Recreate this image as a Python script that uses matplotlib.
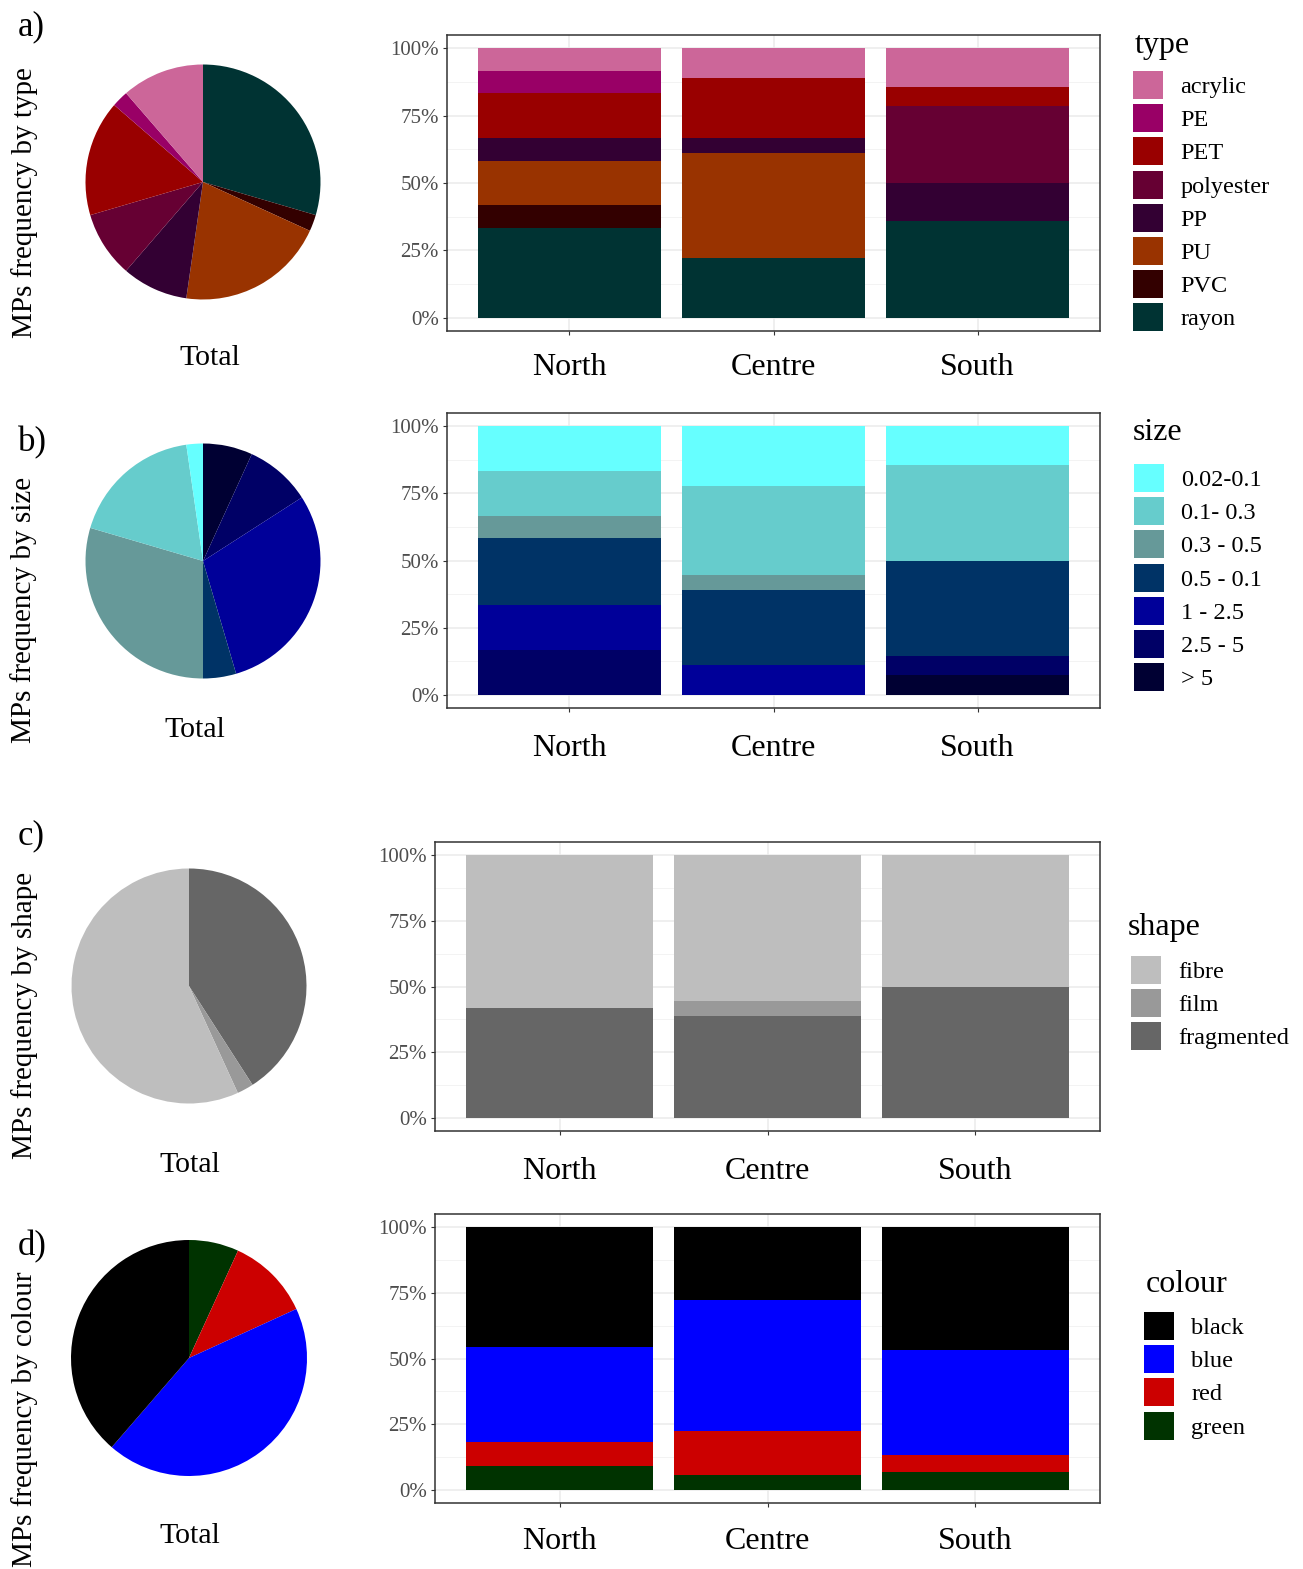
import numpy as np
import matplotlib
matplotlib.use('Agg')
import matplotlib.pyplot as plt
from matplotlib.patches import Patch

plt.rcParams['font.family'] = 'Liberation Serif'

regions = ['North', 'Centre', 'South']

# a) polymer type (counts per region, legend order)
type_labels = ['acrylic', 'PE', 'PET', 'polyester', 'PP', 'PU', 'PVC', 'rayon']
type_colors = ['#CC6699', '#990066', '#990000', '#660033', '#330033', '#993300', '#330000', '#003333']
type_north = [1, 1, 2, 0, 1, 2, 1, 4]
type_centre = [2, 0, 4, 0, 1, 7, 0, 4]
type_south = [2, 0, 1, 4, 2, 0, 0, 5]
type_total = [5, 1, 7, 4, 4, 9, 1, 13]

# b) size class
size_labels = ['0.02-0.1', '0.1- 0.3', '0.3 - 0.5', '0.5 - 0.1', '1 - 2.5', '2.5 - 5', '> 5']
size_colors = ['#66FFFF', '#66CCCC', '#669999', '#003366', '#000099', '#000066', '#000033']
size_north = [2, 2, 1, 3, 2, 2, 0]
size_centre = [4, 6, 1, 5, 2, 0, 0]
size_south = [2, 5, 0, 5, 0, 1, 1]
size_total = [1, 8, 13, 2, 13, 4, 3]

# c) shape
shape_labels = ['fibre', 'film', 'fragmented']
shape_colors = ['#BEBEBE', '#999999', '#666666']
shape_north = [7, 0, 5]
shape_centre = [10, 1, 7]
shape_south = [7, 0, 7]
shape_total = [25, 1, 18]

# d) colour
colour_labels = ['black', 'blue', 'red', 'green']
colour_colors = ['#000000', '#0000FF', '#CC0000', '#003300']
colour_north = [5, 4, 1, 1]
colour_centre = [5, 9, 3, 1]
colour_south = [7, 6, 1, 1]
colour_total = [17, 19, 5, 3]

W, H = 1303, 1569
fig = plt.figure(figsize=(W/100., H/100.), dpi=100, facecolor='white')

def rect(x0, y0, x1, y1):
    return [x0/float(W), 1 - y1/float(H), (x1-x0)/float(W), (y1-y0)/float(H)]

def px(x, y):
    return (x/float(W), 1 - y/float(H))

panels = [
    dict(letter='a)', name='type', labels=type_labels, colors=type_colors,
         counts=[type_north, type_centre, type_south], total=type_total,
         box=(447, 35, 1100, 331), xpad=12.6, pie=(203, 182, 117.5), letter_xy=(31, 27),
         ylab_xy=(25, 203), total_xy=(210, 358), title_xy=(1135, 45), leg_xy=(1133, 71)),
    dict(letter='b)', name='size', labels=size_labels, colors=size_colors,
         counts=[size_north, size_centre, size_south], total=size_total,
         box=(447, 413, 1100, 708), xpad=15.5, pie=(203, 561, 117.5), letter_xy=(32, 443),
         ylab_xy=(24, 610), total_xy=(195, 730), title_xy=(1133, 433), leg_xy=(1134, 464)),
    dict(letter='c)', name='shape', labels=shape_labels, colors=shape_colors,
         counts=[shape_north, shape_centre, shape_south], total=shape_total,
         box=(435, 842, 1100, 1131), xpad=15.5, pie=(189, 986, 117.5), letter_xy=(31, 836),
         ylab_xy=(25, 1015), total_xy=(190, 1165), title_xy=(1128, 928), leg_xy=(1131, 956)),
    dict(letter='d)', name='colour', labels=colour_labels, colors=colour_colors,
         counts=[colour_north, colour_centre, colour_south], total=colour_total,
         box=(435, 1214, 1100, 1503), xpad=14, pie=(189, 1358, 118), letter_xy=(32, 1247),
         ylab_xy=(25, 1419), total_xy=(190, 1536), title_xy=(1146, 1284), leg_xy=(1144, 1312)),
]

for p in panels:
    # stacked proportion bars
    ax = fig.add_axes(rect(*p['box']))
    props = np.array(p['counts'], dtype=float)
    props = props / props.sum(axis=1, keepdims=True)
    x = np.arange(1, len(regions) + 1)
    bottom = np.zeros(len(regions))
    for k in reversed(range(len(p['labels']))):
        ax.bar(x, props[:, k], 0.9, bottom=bottom, color=p['colors'][k], zorder=2)
        bottom += props[:, k]
    ax.set_xlim(0.4, 3.6)
    ax.set_ylim(-0.05, 1.05)
    ax.set_yticks([0, .25, .5, .75, 1])
    ax.set_yticklabels(['0%', '25%', '50%', '75%', '100%'], fontsize=15, color='#4D4D4D')
    ax.set_yticks([.125, .375, .625, .875], minor=True)
    ax.set_xticks(x)
    ax.set_xticklabels(regions, fontsize=23)
    ax.set_axisbelow(True)
    ax.grid(which='major', color='#EBEBEB', lw=1.1)
    ax.grid(which='minor', axis='y', color='#F3F3F3', lw=0.7)
    ax.tick_params(which='major', length=3, color='#333333', width=0.8)
    ax.tick_params(axis='y', which='minor', length=0)
    ax.tick_params(axis='x', pad=p['xpad'])
    ax.tick_params(axis='y', pad=3)
    for s in ax.spines.values():
        s.set_color('#333333')
        s.set_linewidth(1.1)

    # total pie, clockwise from top
    cx, cy, r = p['pie']
    pax = fig.add_axes(rect(cx - r, cy - r, cx + r, cy + r))
    pax.pie(p['total'][::-1], colors=p['colors'][::-1], startangle=90,
            counterclock=False, radius=1, wedgeprops=dict(linewidth=0))
    pax.set_xlim(-1, 1)
    pax.set_ylim(-1, 1)
    pax.axis('off')

    fig.text(*px(*p['letter_xy']), p['letter'], fontsize=25, ha='center', va='center')
    fig.text(*px(*p['ylab_xy']), 'MPs frequency by ' + p['name'], rotation=90,
             fontsize=21, ha='center', va='center')
    fig.text(*px(*p['total_xy']), 'Total', fontsize=21.5, ha='center', va='center')
    fig.text(*px(*p['title_xy']), p['name'], fontsize=23, ha='left', va='center')

    handles = [Patch(facecolor=c, edgecolor='none') for c in p['colors']]
    fig.legend(handles, p['labels'], loc='upper left', bbox_to_anchor=px(*p['leg_xy']),
               bbox_transform=fig.transFigure, frameon=False, fontsize=17.5,
               handlelength=1.25, handleheight=1.4, handletextpad=0.7,
               labelspacing=0.21, borderpad=0, borderaxespad=0)

fig.savefig('out.png', dpi=100, facecolor='white')
